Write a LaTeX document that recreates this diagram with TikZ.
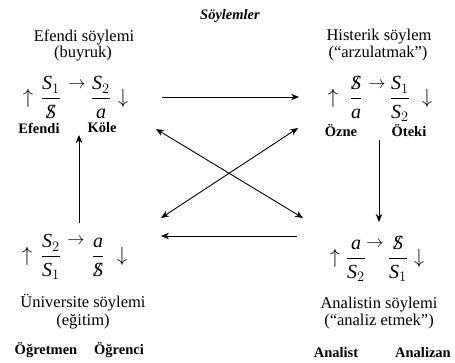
\documentclass[tikz,border=0pt]{standalone}
\usepackage{amsmath}
\usepackage{fontspec}
\setmainfont{Liberation Serif}
\usetikzlibrary{arrows.meta}
\newcommand{\bS}{\mbox{\ooalign{\textit{S}\cr\hidewidth\textit{/}\hidewidth\cr}}}
\newcommand{\Sx}[1]{\mathit{S}_{#1}}
\begin{document}
\begin{tikzpicture}[x=1pt,y=-1pt,
  title/.style={font=\fontsize{16.5}{18}\selectfont, inner sep=0pt},
  heading/.style={font=\fontsize{14.5}{16}\selectfont\bfseries\itshape, inner sep=0pt},
  lab/.style={font=\fontsize{14.5}{16}\selectfont\bfseries, inner sep=0pt},
  frm/.style={font=\fontsize{20}{22}\selectfont, inner sep=0pt, anchor=base, yshift=-5pt},
  sarr/.style={font=\fontsize{18}{20}\selectfont, inner sep=0pt, anchor=base, yshift=-4.5pt},
  conn/.style={line width=0.9pt, -{Stealth[length=8pt,width=6.5pt]}},
  biconn/.style={line width=0.9pt, {Stealth[length=8pt,width=6.5pt]}-{Stealth[length=8pt,width=6.5pt]}},
]
\useasboundingbox (0,0) rectangle (455,363);

\node[heading] (head) at (230,16) {Söylemler};

% Efendi (master)
\node[title] (mT1) at (84,37) {Efendi söylemi};
\node[title] (mT2) at (83,54) {(buyruk)};
\node[frm] (mUp) at (28,99) {$\uparrow$};
\node[frm] (mF1) at (51,99) {$\dfrac{\Sx{1}}{\bS}$};
\node[sarr] (mAr) at (77,84) {$\rightarrow$};
\node[frm] (mF2) at (101,99) {$\dfrac{\Sx{2}}{\mathit{a}}$};
\node[frm] (mDn) at (123,99) {$\downarrow$};
\node[lab] (mL1) at (39,128) {Efendi};
\node[lab] (mL2) at (102,128) {Köle};

% Histerik
\node[title] (hT1) at (379,37) {Histerik söylem};
\node[title] (hT2) at (378,54) {(“arzulatmak”)};
\node[frm] (hUp) at (333,99) {$\uparrow$};
\node[frm] (hF1) at (356,99) {$\dfrac{\bS}{\mathit{a}}$};
\node[sarr] (hAr) at (377,84) {$\rightarrow$};
\node[frm] (hF2) at (400,99) {$\dfrac{\Sx{1}}{\Sx{2}}$};
\node[frm] (hDn) at (427,99) {$\downarrow$};
\node[lab] (hL1) at (341,131) {Özne};
\node[lab] (hL2) at (409,131) {Öteki};

% Universite
\node[frm] (uUp) at (27,257) {$\uparrow$};
\node[frm] (uF1) at (51,257) {$\dfrac{\Sx{2}}{\Sx{1}}$};
\node[sarr] (uAr) at (76,240) {$\rightarrow$};
\node[frm] (uF2) at (98,257) {$\dfrac{\mathit{a}}{\bS}$};
\node[frm] (uDn) at (122,257) {$\downarrow$};
\node[title] (uT1) at (83,303) {Üniversite söylemi};
\node[title] (uT2) at (83,322) {(eğitim)};
\node[lab] (uL1) at (46,350) {Öğretmen};
\node[lab] (uL2) at (119,350) {Öğrenci};

% Analist
\node[frm] (aUp) at (335,259) {$\uparrow$};
\node[frm] (aF1) at (356,259) {$\dfrac{\mathit{a}}{\Sx{2}}$};
\node[sarr] (aAr) at (375,243) {$\rightarrow$};
\node[frm] (aF2) at (398,259) {$\dfrac{\bS}{\Sx{1}}$};
\node[frm] (aDn) at (419,259) {$\downarrow$};
\node[title] (aT1) at (379,305) {Analistin söylemi};
\node[title] (aT2) at (379,322) {(“analiz etmek”)};
\node[lab] (aL1) at (336,353) {Analist};
\node[lab] (aL2) at (423,353) {Analizan};

% connector end points
\coordinate (topA) at (162,97);
\coordinate (topB) at (299,97);
\coordinate (botA) at (297,236);
\coordinate (botB) at (161,236);
\coordinate (leftA) at (79,223);
\coordinate (leftB) at (79,135);
\coordinate (rightA) at (379,140);
\coordinate (rightB) at (379,222);
\coordinate (dgA) at (156,129);
\coordinate (dgB) at (303,218);
\coordinate (dgC) at (161,218);
\coordinate (dgD) at (298,128);

\draw[conn] (topA) -- (topB);
\draw[conn] (botA) -- (botB);
\draw[conn] (leftA) -- (leftB);
\draw[conn] (rightA) -- (rightB);
\draw[biconn] (dgA) -- (dgB);
\draw[biconn] (dgC) -- (dgD);
\end{tikzpicture}
\end{document}
